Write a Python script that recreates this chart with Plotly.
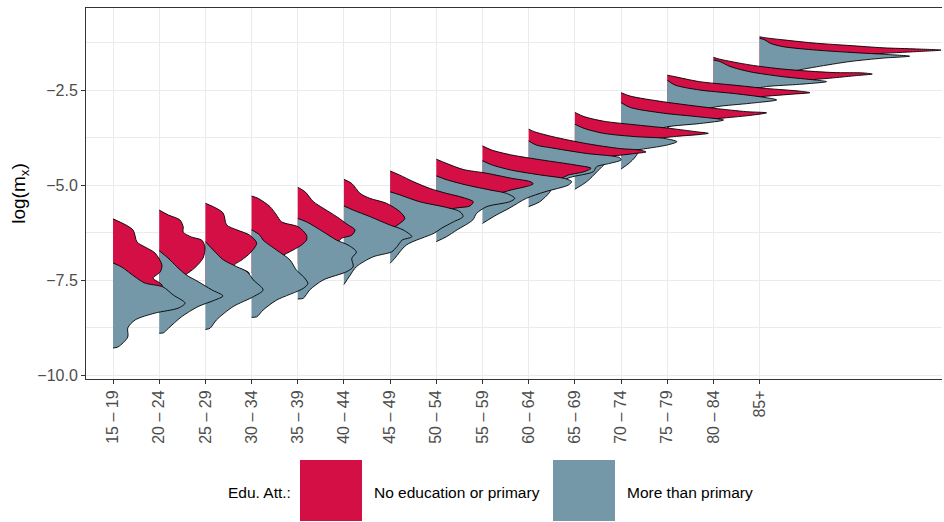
import plotly.graph_objects as go

# ---------------- data ----------------
age_groups = ["15 – 19", "20 – 24", "25 – 29", "30 – 34", "35 – 39", "40 – 44",
              "45 – 49", "50 – 54", "55 – 59", "60 – 64", "65 – 69", "70 – 74",
              "75 – 79", "80 – 84", "85+"]

# "No education or primary": density outline per age group,
# log(m_x) positions and density widths (in category units)
noedu_logmx = [
    [-5.89, -6.18, -6.50, -6.63, -6.79, -7.11, -7.29, -7.45, -7.63, -7.78, -7.92, -8.05],
    [-5.66, -5.79, -5.92, -6.10, -6.24, -6.37, -6.45, -6.63, -6.92, -7.18, -7.37, -7.60, -7.80],
    [-5.48, -5.73, -6.05, -6.18, -6.32, -6.53, -6.79, -6.97, -7.12, -7.32, -7.55, -7.80],
    [-5.29, -5.35, -5.57, -5.79, -5.97, -6.10, -6.32, -6.45, -6.58, -6.71, -6.90, -7.10, -7.30],
    [-5.06, -5.18, -5.44, -5.61, -5.83, -6.05, -6.18, -6.32, -6.40, -6.49, -6.70, -6.90, -7.05],
    [-4.85, -4.96, -5.22, -5.35, -5.48, -5.70, -5.88, -6.01, -6.10, -6.30, -6.50, -6.65],
    [-4.63, -4.74, -4.91, -5.09, -5.22, -5.33, -5.44, -5.55, -5.62, -5.90, -6.10],
    [-4.32, -4.43, -4.59, -4.69, -4.83, -4.91, -4.97, -5.04, -5.13, -5.35, -5.70],
    [-3.97, -4.08, -4.21, -4.34, -4.47, -4.56, -4.65, -4.74, -4.83, -5.00, -5.30],
    [-3.53, -3.60, -3.73, -3.91, -4.04, -4.08, -4.13, -4.17, -4.24, -4.30, -4.45],
    [-3.09, -3.20, -3.32, -3.42, -3.51, -3.60, -3.64, -3.67, -3.72, -3.80, -3.95, -4.05],
    [-2.57, -2.66, -2.81, -2.98, -3.07, -3.10, -3.16, -3.24, -3.35, -3.50],
    [-2.11, -2.14, -2.28, -2.37, -2.46, -2.53, -2.57, -2.61, -2.70, -2.85, -3.00],
    [-1.64, -1.69, -1.84, -1.95, -2.04, -2.05, -2.08, -2.12, -2.18, -2.30, -2.45, -2.55],
    [-1.10, -1.13, -1.18, -1.27, -1.33, -1.39, -1.42, -1.45, -1.49, -1.55, -1.70, -1.85, -1.95],
]
noedu_width = [
    [0, 0.43, 0.52, 0.69, 0.91, 1.06, 1.02, 0.87, 1.06, 1.05, 0.60, 0],
    [0, 0.20, 0.45, 0.52, 0.52, 0.70, 0.92, 0.99, 0.95, 0.77, 0.57, 0.40, 0],
    [0, 0.38, 0.46, 0.68, 0.96, 1.11, 0.97, 0.79, 0.62, 0.95, 0.60, 0],
    [0, 0.14, 0.40, 0.54, 0.65, 1.01, 1.19, 1.19, 1.08, 0.90, 0.60, 0.30, 0],
    [0, 0.16, 0.34, 0.55, 0.84, 1.09, 1.24, 1.17, 0.95, 0.88, 0.60, 0.30, 0],
    [0, 0.17, 0.35, 0.56, 0.92, 1.21, 1.32, 1.21, 1.10, 0.70, 0.30, 0],
    [0, 0.21, 0.50, 0.86, 1.22, 1.58, 1.80, 1.73, 1.37, 0.80, 0],
    [0, 0.22, 0.58, 1.09, 1.66, 2.03, 2.10, 1.95, 1.62, 1.00, 0],
    [0, 0.20, 0.63, 1.28, 1.99, 2.35, 2.20, 1.85, 1.70, 1.00, 0],
    [0, 0.13, 0.53, 1.25, 1.97, 2.41, 2.54, 2.30, 1.80, 1.20, 0],
    [0, 0.20, 0.62, 1.34, 2.06, 2.64, 2.89, 2.71, 2.20, 1.60, 0.60, 0],
    [0, 0.20, 0.92, 2.01, 2.72, 3.15, 2.85, 2.20, 1.20, 0],
    [0, 0.13, 0.70, 1.43, 2.15, 2.87, 3.09, 2.70, 1.80, 0.80, 0],
    [0, 0.14, 0.79, 1.51, 2.59, 3.24, 3.44, 3.10, 2.60, 1.50, 0.50, 0],
    [0, 0.15, 0.51, 1.23, 1.96, 2.68, 3.40, 3.93, 3.40, 2.50, 1.20, 0.40, 0],
]

# "More than primary"
more_logmx = [
    [-7.05, -7.16, -7.42, -7.58, -7.68, -7.89, -8.11, -8.24, -8.37, -8.55, -8.76, -9.00, -9.26, -9.29],
    [-6.73, -6.92, -7.15, -7.37, -7.54, -7.76, -7.92, -8.03, -8.20, -8.47, -8.77, -8.89, -8.90],
    [-6.49, -6.71, -6.97, -7.15, -7.28, -7.50, -7.76, -7.94, -8.20, -8.55, -8.77, -8.80],
    [-6.18, -6.32, -6.45, -6.71, -6.97, -7.24, -7.41, -7.59, -7.72, -8.03, -8.29, -8.47, -8.48],
    [-5.88, -5.97, -6.23, -6.45, -6.58, -6.76, -6.93, -7.15, -7.28, -7.50, -7.76, -7.98, -8.00],
    [-5.55, -5.66, -5.83, -6.05, -6.18, -6.36, -6.45, -6.62, -6.76, -6.89, -7.15, -7.40, -7.62],
    [-5.18, -5.26, -5.44, -5.59, -5.70, -5.83, -5.97, -6.14, -6.27, -6.58, -6.93, -7.06],
    [-4.76, -4.86, -5.00, -5.13, -5.22, -5.35, -5.44, -5.57, -5.75, -5.92, -6.18, -6.36, -6.49],
    [-4.36, -4.47, -4.61, -4.74, -4.83, -4.91, -5.00, -5.18, -5.35, -5.61, -5.79, -6.01],
    [-3.84, -3.95, -4.03, -4.17, -4.28, -4.34, -4.43, -4.52, -4.65, -4.80, -5.00, -5.20, -5.44, -5.57],
    [-3.40, -3.51, -3.64, -3.73, -3.77, -3.86, -3.95, -4.08, -4.17, -4.39, -4.65, -4.91, -5.11],
    [-2.83, -2.96, -3.11, -3.20, -3.29, -3.38, -3.47, -3.58, -3.82, -4.08, -4.26, -4.42, -4.58],
    [-2.24, -2.37, -2.50, -2.59, -2.68, -2.76, -2.85, -2.94, -3.08, -3.29, -3.50],
    [-1.71, -1.75, -1.88, -2.02, -2.15, -2.24, -2.28, -2.35, -2.41, -2.55, -2.76, -2.87],
    [-1.14, -1.18, -1.27, -1.36, -1.45, -1.51, -1.56, -1.61, -1.66, -1.75, -1.89, -1.97, -2.11, -2.24],
]
more_width = [
    [0, 0.19, 0.48, 0.69, 1.08, 1.30, 1.56, 1.41, 0.91, 0.48, 0.32, 0.32, 0.11, 0],
    [0, 0.19, 0.38, 0.59, 0.84, 1.14, 1.38, 1.20, 0.84, 0.48, 0.20, 0.09, 0],
    [0, 0.17, 0.39, 0.68, 0.90, 1.04, 1.25, 1.04, 0.60, 0.24, 0.10, 0],
    [0, 0.18, 0.25, 0.54, 0.83, 0.97, 1.12, 1.22, 1.12, 0.54, 0.25, 0.11, 0],
    [0, 0.19, 0.55, 0.84, 1.09, 1.27, 1.17, 1.20, 1.06, 0.55, 0.26, 0.12, 0],
    [0, 0.20, 0.56, 0.99, 1.28, 1.47, 1.26, 1.15, 1.03, 0.63, 0.27, 0.12, 0],
    [0, 0.21, 0.64, 1.22, 1.51, 1.58, 1.37, 1.11, 0.95, 0.35, 0.10, 0],
    [0, 0.22, 0.65, 1.16, 1.52, 1.70, 1.59, 1.09, 0.87, 0.79, 0.45, 0.22, 0],
    [0, 0.20, 0.63, 1.28, 1.78, 1.93, 1.86, 1.35, 0.95, 0.58, 0.30, 0],
    [0, 0.17, 0.53, 1.25, 1.97, 2.00, 1.76, 1.47, 1.40, 0.90, 0.55, 0.45, 0.24, 0],
    [0, 0.20, 0.62, 1.34, 1.92, 2.21, 1.99, 1.34, 0.98, 0.70, 0.48, 0.26, 0],
    [0, 0.20, 0.92, 1.64, 2.22, 1.72, 0.99, 0.70, 0.50, 0.40, 0.31, 0.18, 0],
    [0, 0.17, 0.70, 1.43, 2.02, 2.37, 1.79, 1.07, 0.60, 0.30, 0],
    [0, 0.14, 0.36, 0.79, 1.51, 2.23, 2.45, 1.87, 1.15, 0.60, 0.20, 0],
    [0, 0.11, 0.23, 0.51, 1.23, 1.96, 2.68, 3.25, 2.68, 1.96, 1.23, 0.87, 0.40, 0],
]

series_names = ["No education or primary", "More than primary"]
series_colors = ["#D30F46", "#7598A9"]
y_tickvals = [-10.0, -7.5, -5.0, -2.5]
y_ticktext = ["\u221210.0", "\u22127.5", "\u22125.0", "\u22122.5"]
y_minor = [-8.75, -6.25, -3.75, -1.25]

FONT = "Liberation Sans, Arial, Helvetica, sans-serif"

fig = go.Figure()

# later (right) groups drawn first so that left groups overlay them
for i in reversed(range(len(age_groups))):
    for ys, ws, col in [(noedu_logmx[i], noedu_width[i], series_colors[0]),
                        (more_logmx[i], more_width[i], series_colors[1])]:
        xs = [i + w for w in ws]
        fig.add_trace(go.Scatter(
            x=xs, y=ys, mode="lines", fill="toself", fillcolor=col,
            line=dict(width=0, shape="spline", smoothing=0.8, color=col),
            hoverinfo="skip", showlegend=False))
        fig.add_trace(go.Scatter(
            x=xs, y=ys, mode="lines",
            line=dict(width=0.9, shape="spline", smoothing=0.8, color="black"),
            hoverinfo="skip", showlegend=False))

# manual legend with large ggplot-like keys
L, R, T, B = 86, 942, 8, 379
def px(xp):
    return (xp - L) / (R - L)
def py(yp):
    return (B - yp) / (B - T)

shapes = []
annotations = []
for name, col, x0, x1, tx in [(series_names[0], series_colors[0], 300, 362, 372),
                              (series_names[1], series_colors[1], 553, 615, 625)]:
    shapes.append(dict(type="rect", xref="paper", yref="paper",
                       x0=px(x0), x1=px(x1), y0=py(521), y1=py(460),
                       fillcolor=col, line=dict(width=0), layer="above"))
    annotations.append(dict(text=name, xref="paper", yref="paper", x=px(tx), y=py(492),
                            xanchor="left", yanchor="middle", showarrow=False,
                            font=dict(family=FONT, size=15.5, color="black")))
annotations.append(dict(text="Edu. Att.:", xref="paper", yref="paper", x=px(293), y=py(492),
                        xanchor="right", yanchor="middle", showarrow=False,
                        font=dict(family=FONT, size=15.5, color="black")))

fig.update_layout(
    width=944, height=522,
    margin=dict(l=L, r=944 - R, t=T, b=522 - B),
    paper_bgcolor="white", plot_bgcolor="white",
    font=dict(family=FONT),
    showlegend=False,
    shapes=shapes,
    annotations=annotations,
    xaxis=dict(
        range=[-0.585, 17.95],
        tickmode="array", tickvals=list(range(len(age_groups))), ticktext=age_groups,
        tickangle=-90, tickfont=dict(family=FONT, size=16, color="#4D4D4D"),
        ticks="outside", ticklen=4, tickcolor="#333333", tickwidth=1,
        showgrid=True, gridcolor="#EBEBEB", gridwidth=1,
        showline=True, linecolor="#333333", linewidth=1, mirror=True,
        zeroline=False,
    ),
    yaxis=dict(
        range=[-10.105, -0.342],
        tickmode="array", tickvals=y_tickvals, ticktext=y_ticktext,
        tickfont=dict(family=FONT, size=16, color="#4D4D4D"),
        ticks="outside", ticklen=4, tickcolor="#333333", tickwidth=1,
        showgrid=True, gridcolor="#EBEBEB", gridwidth=1,
        minor=dict(tickmode="array", tickvals=y_minor, showgrid=True,
                   gridcolor="#EBEBEB", gridwidth=1, ticks=""),
        showline=True, linecolor="#333333", linewidth=1, mirror=False,
        zeroline=False,
        title=dict(text="log(m<sub>x</sub>)", font=dict(family=FONT, size=19, color="black"),
                   standoff=6),
    ),
)

fig.write_html("out.html")
